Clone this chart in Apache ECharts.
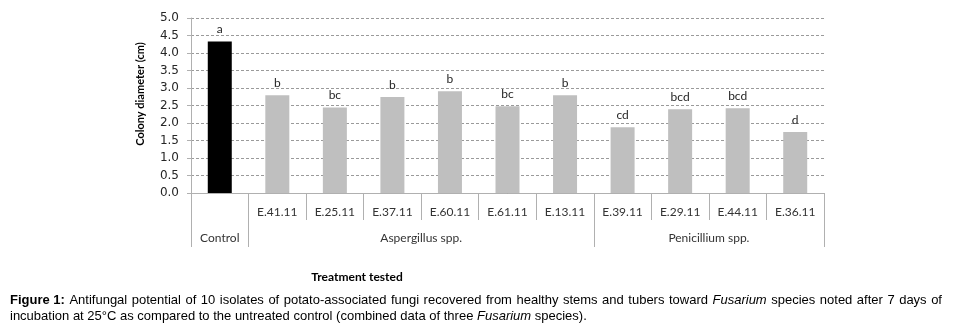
<!DOCTYPE html>
<html><head><meta charset="utf-8">
<script src="https://cdn.jsdelivr.net/npm/echarts@6/dist/echarts.min.js"></script>
<style>html,body{margin:0;padding:0;background:#fff}#c{width:955px;height:329px}</style>
</head><body><div id="c"></div>
<script>
const categories = ['', 'E.41.11', 'E.25.11', 'E.37.11', 'E.60.11', 'E.61.11', 'E.13.11', 'E.39.11', 'E.29.11', 'E.44.11', 'E.36.11'];
const values = [4.33, 2.79, 2.44, 2.74, 2.91, 2.48, 2.79, 1.88, 2.39, 2.42, 1.74];
const letters = ['a', 'b', 'bc', 'b', 'b', 'bc', 'b', 'cd', 'bcd', 'bcd', 'd'];
const groupNames = ['Control', 'Aspergillus spp.', 'Penicillium spp.'];
const groupCenters = [0.5, 4, 9];
const groupBounds = [0, 1, 7, 11];
const yTicks = [0, 0.5, 1, 1.5, 2, 2.5, 3, 3.5, 4, 4.5, 5];

const line1Words = ['{b|Figure 1:}', 'Antifungal', 'potential', 'of', '10', 'isolates', 'of', 'potato-associated', 'fungi', 'recovered', 'from', 'healthy', 'stems', 'and', 'tubers', 'toward', '{i|Fusarium}', 'species', 'noted', 'after', '7', 'days', 'of'];
const line2 = 'incubation at 25°C as compared to the untreated control (combined data of three {i|Fusarium} species).';

const capFont = 'Liberation Sans';
const capSize = 13;
const capRich = {
  b: { fontWeight: 'bold', fontFamily: capFont, fontSize: capSize, verticalAlign: 'middle' },
  i: { fontStyle: 'italic', fontFamily: capFont, fontSize: capSize, verticalAlign: 'middle' },
  s: { fontFamily: capFont, fontSize: 16.3, verticalAlign: 'middle' }
};

const chart = echarts.init(document.getElementById('c'));
chart.setOption({
  animation: false,
  grid: { left: 191, right: 131, top: 18, bottom: 136, containLabel: false },
  xAxis: [{
    type: 'category', data: categories, boundaryGap: true,
    axisLine: { lineStyle: { color: '#b0b0b0', width: 1 } },
    axisTick: { show: true, interval: 0, length: 27, lineStyle: { color: '#b0b0b0' } },
    axisLabel: { interval: 0, margin: 13, fontFamily: 'Lato', fontSize: 12, color: '#333333' }
  }, {
    type: 'value', min: 0, max: 11, position: 'bottom',
    axisLine: { show: false },
    splitLine: { show: false },
    axisTick: { show: true, customValues: groupBounds, length: 54, lineStyle: { color: '#b0b0b0' } },
    axisLabel: { customValues: groupCenters, margin: 39, fontFamily: 'Lato', fontSize: 12, color: '#333333',
      formatter: v => groupNames[groupCenters.indexOf(v)] }
  }],
  yAxis: {
    type: 'value', min: 0, max: 5, interval: 0.5,
    axisLine: { show: true, lineStyle: { color: '#b0b0b0' } },
    axisTick: { show: true, length: 4, lineStyle: { color: '#b0b0b0' } },
    axisLabel: { margin: 12, fontFamily: 'DejaVu Sans', fontSize: 12, color: '#262626',
      formatter: v => yTicks.indexOf(v) >= 0 ? v.toFixed(1) : '' },
    splitLine: { show: true, lineStyle: { color: '#9a9a9a', type: [3, 2], width: 1 } }
  },
  series: [{
    type: 'bar', barWidth: 24, xAxisIndex: 0,
    data: values.map((v, i) => ({ value: v, itemStyle: { color: i === 0 ? '#000000' : '#bfbfbf' } })),
    label: { show: true, position: 'top', distance: 6, fontFamily: 'Lato', fontSize: 12, color: '#262626',
      formatter: p => letters[p.dataIndex] }
  }],
  graphic: [
    { type: 'text', x: 140, y: 94, rotation: Math.PI / 2,
      style: { text: 'Colony diameter (cm)', font: 'bold 11px Lato', fill: '#000', align: 'center', verticalAlign: 'middle' } },
    { type: 'text', x: 357, y: 277, style: { text: 'Treatment tested', font: 'bold 12px Lato', fill: '#000', align: 'center', verticalAlign: 'middle' } },
    { type: 'text', x: 10, y: 300, style: {
      text: line1Words.join('{s| }'),
      verticalAlign: 'middle', font: capSize + 'px "' + capFont + '"', fill: '#000', rich: capRich } },
    { type: 'text', x: 10, y: 316, style: {
      text: line2,
      verticalAlign: 'middle', font: capSize + 'px "' + capFont + '"', fill: '#000', rich: capRich } }
  ]
});
</script></body></html>
